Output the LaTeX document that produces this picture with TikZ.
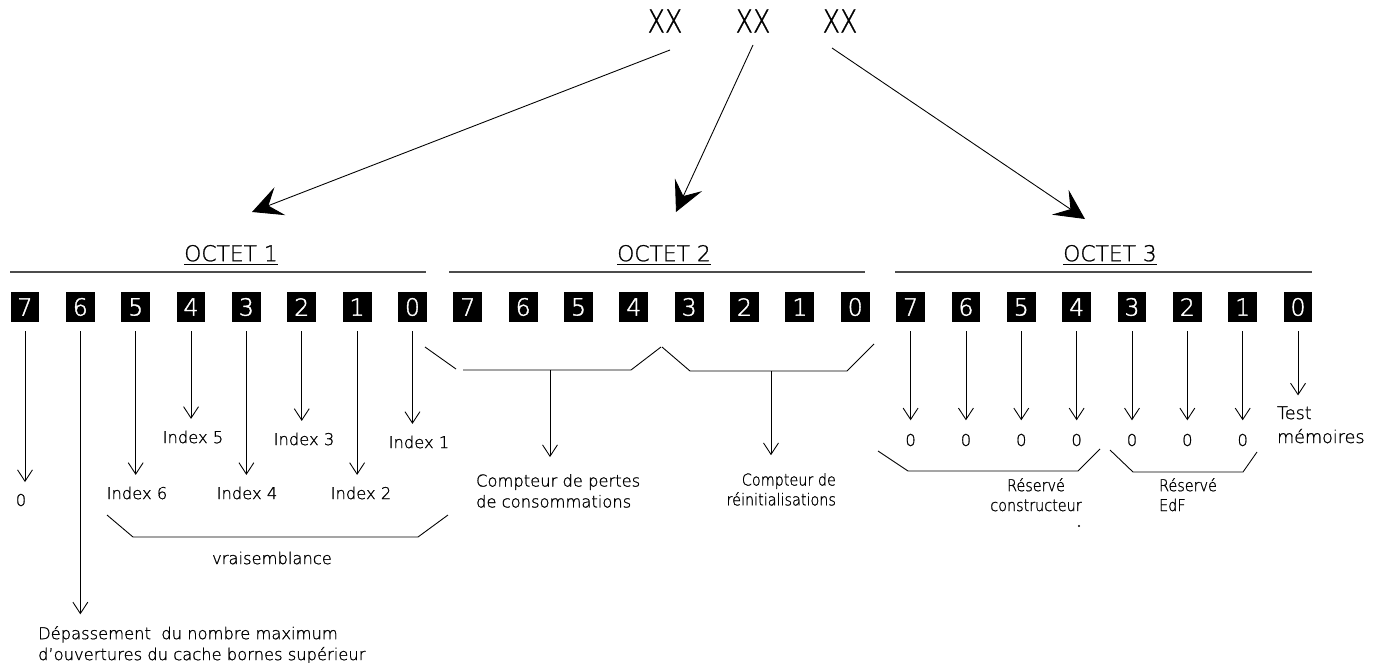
\documentclass[tikz,border=0pt]{standalone}
\usepackage{fontspec}
\setmainfont[FakeBold=1]{DejaVu Sans ExtraLight}
\newfontfamily\condfont[FakeStretch=0.88,FakeBold=1]{DejaVu Sans ExtraLight}
\newfontfamily\xxfont[FakeStretch=0.8,FakeBold=1]{DejaVu Sans ExtraLight}
\newfontfamily\digitfont[FakeBold=1.5]{DejaVu Sans ExtraLight}
\usetikzlibrary{arrows.meta}

\begin{document}
\begin{tikzpicture}[x=0.02cm,y=-0.02cm,
  bitbox/.style={fill=black,text=white,minimum width=16.4pt,minimum height=17pt,inner sep=0pt,font=\digitfont\fontsize{13.5}{14}\selectfont},
  lbl/.style={inner sep=1pt,font=\fontsize{9.3}{11.9}\selectfont},
  cond/.style={inner sep=1pt,font=\condfont\fontsize{9.3}{11.3}\selectfont},
  octet/.style={inner sep=1pt,font=\fontsize{12.4}{14}\selectfont},
  xx/.style={inner sep=1pt,font=\xxfont\fontsize{18}{18}\selectfont},
  rule/.style={line width=1pt,black!70},
  brk/.style={line width=0.5pt},
  bitarrow/.style={line width=0.5pt,-{Straight Barb[length=6.5pt,width=8.5pt]},shorten <=5pt},
  bigarrow/.style={line width=0.5pt,-{Stealth[length=17pt,width=17pt,inset=7pt]}}]

\useasboundingbox (0,0) rectangle (1374,663);

\foreach \oc in {1,2,3}{
\foreach \bt in {0,...,7}{
  \pgfmathsetmacro{\xb}{25+55.35*(8*(\oc-1)+7-\bt)}
  \node[bitbox] (o\oc b\bt) at (\xb,307) {\bt};
}
}

\node[octet] (oct1) at (231,255) {\underline{OCTET 1}};
\node[octet] (oct2) at (664,255) {\underline{OCTET 2}};
\node[octet] (oct3) at (1110,255) {\underline{OCTET 3}};
\draw[rule] (10,272) -- (426,272);
\draw[rule] (449,272) -- (865,272);
\draw[rule] (895,272) -- (1312,272);

\node[xx] (xx1) at (665,21) {XX};
\node[xx] (xx2) at (753,21) {XX};
\node[xx] (xx3) at (840,21) {XX};
\coordinate (s1) at (670,50);
\coordinate (s2) at (753,45);
\coordinate (s3) at (832,48);
\coordinate (t1) at (252,212);
\coordinate (t2) at (676,212);
\coordinate (t3) at (1085,219);
\draw[bigarrow] (s1) -- (t1);
\draw[bigarrow] (s2) -- (t2);
\draw[bigarrow] (s3) -- (t3);

\node[lbl] (zero7) at (21,500) {0};
\node[lbl,anchor=north west,align=left] (dep) at (36,624) {D\'epassement\ \ du nombre maximum\\d’ouvertures du cache bornes sup\'erieur};
\node[lbl] (i6) at (137,493) {Index 6};
\node[lbl] (i5) at (193,437) {Index 5};
\node[lbl] (i4) at (247,493) {Index 4};
\node[lbl] (i3) at (304,439) {Index 3};
\node[lbl] (i2) at (361,493) {Index 2};
\node[lbl] (i1) at (419,442) {Index 1};
\foreach \bt/\tg in {7/zero7,6/dep,5/i6,4/i5,3/i4,2/i3,1/i2,0/i1}
  \draw[bitarrow,shorten >=5.5pt] (o1b\bt.south) -- (o1b\bt.south |- \tg.north);
\draw[brk] (107,515) -- (133,537) -- (418,537) -- (448,515);
\node[lbl] (vrai) at (272,558) {vraisemblance};

\draw[brk] (425,347) -- (456,369);
\draw[brk] (463,370) -- (631,370) -- (661,347);
\draw[brk] (662,347) -- (690,371) -- (847,371) -- (874,344);
\coordinate (m1) at (550,370);
\coordinate (m2) at (771,371);
\node[lbl,anchor=north west,align=left] (cpt1) at (474,472) {Compteur de pertes\\de consommations};
\node[cond,anchor=north east,align=right] (cpt2) at (838,471) {Compteur de\\r\'einitialisations};
\draw[bitarrow,shorten <=0pt,shorten >=8.5pt] (m1) -- (m1 |- cpt1.north);
\draw[bitarrow,shorten <=0pt,shorten >=9pt] (m2) -- (m2 |- cpt2.north);

\foreach \bt in {7,...,1}{
  \pgfmathsetmacro{\xb}{25+55.35*(23-\bt)}
  \node[lbl] (zc\bt) at (\xb,440) {0};
  \draw[bitarrow,shorten >=6.5pt] (o3b\bt.south) -- (zc\bt.north);
}
\node[lbl,anchor=base west,align=left,font=\fontsize{10}{13.6}\selectfont] (test) at (1275,443) {Test\\m\'emoires};
\draw[bitarrow,shorten >=5pt] (o3b0.south) -- (o3b0.south |- test.north);
\draw[brk] (878,451) -- (908,471) -- (1078,471) -- (1100,449);
\draw[brk] (1110,450) -- (1133,472) -- (1243,472) -- (1257,452);
\node[cond,anchor=north,align=center] (rcons) at (1036,476) {R\'eserv\'e\\constructeur};
\node[cond,anchor=north west,align=left] (redf) at (1157,476) {R\'eserv\'e\\EdF};
\fill (1079,526) circle (0.6pt);

\end{tikzpicture}
\end{document}
